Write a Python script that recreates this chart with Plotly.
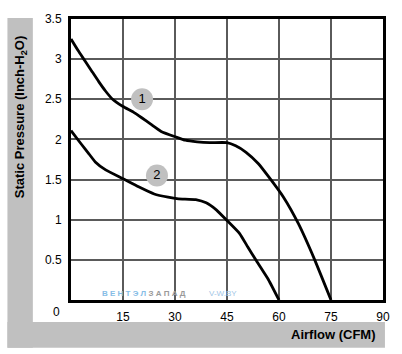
import plotly.graph_objects as go

# Curve 1 (fan 1)
airflow_1 = [0, 2, 4, 6, 8, 10, 12, 15, 18, 20.4, 23, 26, 30.3, 33, 36.4, 40, 45, 47.5, 50.5, 54, 57.1, 61.3, 65.6, 70.3, 75]
pressure_1 = [3.25, 3.11, 2.98, 2.85, 2.72, 2.60, 2.50, 2.41, 2.34, 2.27, 2.19, 2.10, 2.03, 1.99, 1.97, 1.96, 1.96, 1.92, 1.84, 1.70, 1.53, 1.28, 0.95, 0.50, 0]

# Curve 2 (fan 2)
airflow_2 = [0, 3, 5, 7, 10, 15, 19.5, 24, 28, 31, 36, 39, 42, 45, 48.6, 51, 53.3, 57, 60]
pressure_2 = [2.11, 1.94, 1.83, 1.72, 1.62, 1.51, 1.41, 1.32, 1.28, 1.26, 1.25, 1.21, 1.12, 0.99, 0.83, 0.66, 0.50, 0.25, 0]

# Curve labels (circle badges)
label_text = ["1", "2"]
label_x = [20.5, 24.8]
label_y = [2.50, 1.55]

x_ticks = [15, 30, 45, 60, 75, 90]
y_ticks = [0.5, 1, 1.5, 2, 2.5, 3, 3.5]

W, H = 402, 354
L, R, T, B = 71, 12, 18, 54
pw, ph = W - L - R, H - T - B

def px(p):
    return (p - L) / pw

def py(p):
    return (H - B - p) / ph

FONT = "Liberation Sans, Arial, sans-serif"

fig = go.Figure()
for xs, ys in [(airflow_1, pressure_1), (airflow_2, pressure_2)]:
    fig.add_trace(go.Scatter(x=xs, y=ys, mode="lines",
                             line=dict(color="black", width=2.8, shape="spline", smoothing=0.4),
                             hoverinfo="skip", showlegend=False))

fig.add_trace(go.Scatter(x=label_x, y=label_y, mode="markers+text", text=label_text,
                         textposition="middle center",
                         textfont=dict(family=FONT, size=13, color="black"),
                         marker=dict(size=22, color="#c0c0c0", line=dict(width=0)),
                         showlegend=False, hoverinfo="skip"))

gray = "#c0c0c0"
fig.update_layout(
    width=W, height=H,
    margin=dict(l=L, r=R, t=T, b=B),
    paper_bgcolor="white", plot_bgcolor="white",
    showlegend=False,
    font=dict(family=FONT, size=12, color="black"),
    shapes=[
        dict(type="rect", xref="paper", yref="paper", x0=px(6), x1=px(32), y0=py(348), y1=py(17),
             fillcolor=gray, line=dict(width=0), layer="below"),
        dict(type="rect", xref="paper", yref="paper", x0=px(6), x1=px(392), y0=py(348), y1=py(322),
             fillcolor=gray, line=dict(width=0), layer="below"),
    ],
    annotations=[
        dict(text="0", xref="paper", yref="paper", x=px(56), y=py(312), showarrow=False,
             xanchor="center", yanchor="middle", font=dict(size=12, family=FONT)),
        dict(text="<b>Airflow (CFM)</b>", xref="paper", yref="paper", x=px(384), y=py(335), showarrow=False,
             xanchor="right", yanchor="middle", font=dict(size=13, family=FONT)),
        dict(text="<b>Static Pressure (Inch-H<sub>2</sub>O)</b>", xref="paper", yref="paper", x=px(19), y=py(116.5),
             showarrow=False, textangle=-90, xanchor="center", yanchor="middle", font=dict(size=13, family=FONT)),
        dict(text="<b><span style='color:#86bde6'>В Е Н Т Э Л </span><span style='color:#9a9a9a'>З А П А Д</span></b>",
             xref="paper", yref="paper", x=px(101), y=py(293), showarrow=False, xanchor="left", yanchor="middle",
             font=dict(size=8, family=FONT)),
        dict(text="<span style='color:#9fc6e6'>V-W.BY</span>", xref="paper", yref="paper", x=px(210), y=py(293),
             showarrow=False, xanchor="left", yanchor="middle", font=dict(size=8, family=FONT)),
    ],
)

fig.update_xaxes(range=[0, 90], tickvals=x_ticks, ticktext=[str(v) for v in x_ticks],
                 showgrid=True, gridcolor="#5a5a5a", gridwidth=2,
                 showline=True, linecolor="black", linewidth=3, mirror=True,
                 zeroline=False, ticks="", ticklabelstandoff=4,
                 tickfont=dict(size=12, family=FONT, color="black"), fixedrange=True)
fig.update_yaxes(range=[0, 3.5], tickvals=y_ticks, ticktext=[f"{v:g}" for v in y_ticks],
                 showgrid=True, gridcolor="#5a5a5a", gridwidth=2,
                 showline=True, linecolor="black", linewidth=3, mirror=True,
                 zeroline=False, ticks="", ticklabelstandoff=4,
                 tickfont=dict(size=12, family=FONT, color="black"), fixedrange=True)

fig.write_html("out.html")
